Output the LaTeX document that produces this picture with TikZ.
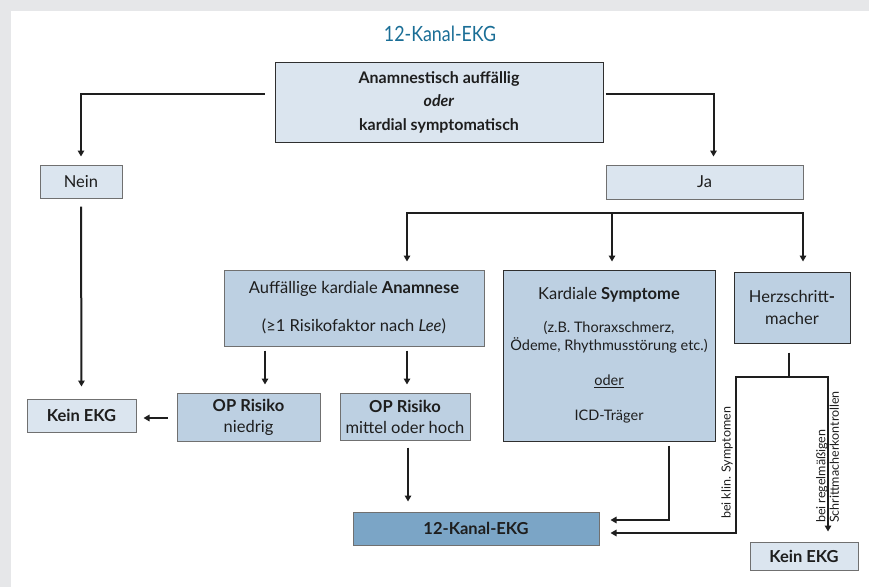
\documentclass[tikz,border=0pt]{standalone}
\usepackage{fontspec}
\setmainfont{Lato}
\newfontfamily\titlefont[FakeStretch=0.85]{Lato}
\usetikzlibrary{arrows.meta}
\definecolor{bggray}{HTML}{E6E7E9}
\definecolor{lightfill}{HTML}{DBE5EF}
\definecolor{midfill}{HTML}{BDD0E2}
\definecolor{darkfill}{HTML}{7BA5C6}
\definecolor{bordergray}{HTML}{707070}
\definecolor{darkborder}{HTML}{2F2F2F}
\definecolor{linecol}{HTML}{1E1E1E}
\definecolor{textcol}{HTML}{1E1E1E}
\definecolor{titleblue}{HTML}{1A6E96}
\begin{document}
\begin{tikzpicture}[x=1pt,y=-1pt,
  box/.style={draw=bordergray, line width=1pt, inner sep=0pt, align=center,
    text=textcol, font=\fontsize{16.5}{19}\selectfont},
  light/.style={box, fill=lightfill},
  mid/.style={box, fill=midfill},
  dark/.style={box, fill=darkfill},
  conn/.style={draw=linecol, line width=2pt},
  arr/.style={conn, -{Triangle[length=6pt,width=6.5pt]}},
  darr/.style={conn, {Triangle[length=6pt,width=6.5pt]}-{Triangle[length=6pt,width=6.5pt]}},
  lbl/.style={text=textcol, font=\fontsize{12.5}{13.5}\selectfont, inner sep=0pt}
]
\useasboundingbox (0,0) rectangle (869,587);
\fill[bggray] (0,0) rectangle (869,587);
\fill[white] (11,11) rectangle (869,587);

% title
\node[text=titleblue, font=\titlefont\fontsize{21}{23}\selectfont] (title) at (440,34) {12-Kanal-EKG};

% boxes
\node[light, draw=darkborder, minimum width=328pt, minimum height=80pt,
      font=\bfseries\fontsize{16}{23.5}\selectfont] (top) at (439,102)
      {Anamnestisch auffällig\\\textit{oder}\\kardial symptomatisch};
\node[light, minimum width=82pt, minimum height=33pt] (nein) at (81,181.5) {Nein};
\node[light, minimum width=197pt, minimum height=34pt] (ja) at (704.5,182) {Ja};
\node[mid, minimum width=260pt, minimum height=76pt] (anam) at (354,308)
      {Auffällige kardiale \textbf{Anamnese}\\[19pt](≥1 Risikofaktor nach \textit{Lee})};
\node[mid, draw=darkborder, minimum width=212pt, minimum height=171pt,
      font=\fontsize{14.5}{18}\selectfont] (sympt) at (609,355.5)
      {{\fontsize{16.5}{19}\selectfont Kardiale \textbf{Symptome}}\\[15pt]
       (z.B. Thoraxschmerz,\\Ödeme, Rhythmusstörung etc.)\\[17pt]
       \underline{oder}\\[17pt]ICD-Träger};
\node[mid, draw=darkborder, minimum width=116pt, minimum height=71pt,
      font=\fontsize{16.5}{22}\selectfont] (hsm) at (792,307.5)
      {Herzschritt\textbf{-}\\macher};
\node[light, minimum width=109pt, minimum height=33pt, font=\bfseries\fontsize{16.5}{19}\selectfont]
      (kein1) at (81.5,415.5) {Kein EKG};
\node[mid, minimum width=143pt, minimum height=48pt, font=\fontsize{16.5}{21}\selectfont]
      (niedrig) at (248.5,417) {\textbf{OP Risiko}\\niedrig};
\node[mid, minimum width=130pt, minimum height=47pt, font=\fontsize{16.5}{21}\selectfont]
      (mittel) at (405,416.5) {\textbf{OP Risiko}\\mittel oder hoch};
\node[dark, minimum width=246pt, minimum height=33pt, font=\bfseries\fontsize{16.5}{19}\selectfont]
      (ekg12) at (476,528.5) {12-Kanal-EKG};
\node[light, minimum width=108pt, minimum height=28pt, font=\bfseries\fontsize{16.5}{19}\selectfont]
      (kein2) at (804,556) {Kein EKG};

% connectors
\draw[arr] ([xshift=-10pt,yshift=8pt]top.west) -| ([yshift=8pt]nein.north);
\draw[arr] ([xshift=2pt,yshift=8pt]top.east) -| ([xshift=9pt,yshift=8pt]ja.north);
\draw[arr, shorten <=8pt, shorten >=12pt] (nein.south) -- (kein1.north);

\coordinate (jl) at (407,213);
\coordinate (jm) at (612,213);
\coordinate (jr) at (803,213);
\draw[darr, shorten <=8pt, shorten >=10pt] (jl |- anam.north) -- (jl) -- (jr) -- (jr |- hsm.north);
\draw[arr, shorten >=8pt] (jm) -- (jm |- sympt.north);

\draw[arr, shorten <=4pt, shorten >=8pt] (265,0 |- anam.south) -- (265,0 |- niedrig.north);
\draw[arr, shorten <=4pt, shorten >=8pt] (407,0 |- anam.south) -- (407,0 |- mittel.north);
\draw[arr, shorten <=9pt, shorten >=7pt] ([yshift=-1pt]niedrig.west) -- ([yshift=-1pt]niedrig.west -| kein1.east);
\draw[arr, shorten <=7pt, shorten >=10pt] (408,0 |- mittel.south) -- (408,0 |- ekg12.north);
\draw[arr, shorten <=4pt, shorten >=11pt] (669,0 |- sympt.south) |- ([yshift=8.5pt]ekg12.east);

\coordinate (hs) at (789,377);
\coordinate (hl) at (736,377);
\coordinate (hr) at (828,377);
\draw[conn, shorten <=9pt] (789,0 |- hsm.south) -- (hs);
\draw[arr, shorten >=11pt] (hs) -- (hl) |- ([yshift=-4.5pt]ekg12.east);
\draw[arr, shorten >=10pt] (hs) -- (hr) -- (hr |- kein2.north);

% rotated labels
\node[lbl, rotate=90, anchor=west] (l1) at (727,519) {bei klin. Symptomen};
\node[lbl, rotate=90, anchor=west, align=left] (l2) at (827.5,523) {bei regelmäßigen\\Schrittmacherkontrollen};
\end{tikzpicture}
\end{document}
